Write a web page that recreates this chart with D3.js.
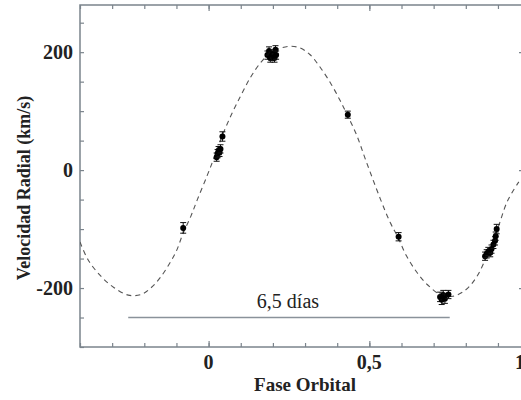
<!DOCTYPE html>
<html>
<head>
<meta charset="utf-8">
<script src="https://cdn.jsdelivr.net/npm/d3@7"></script>
<style>
  body { margin: 0; background: #fff; }
  svg { display: block; font-family: 'Liberation Serif', 'DejaVu Serif', serif; }
</style>
</head>
<body>
<svg id="chart" width="521" height="400"></svg>
<script>
// Fitted radial-velocity curve (phase, km/s)
const curvePhase = [-0.40, -0.375, -0.335, -0.295, -0.25, -0.21, -0.18, -0.15, -0.12, -0.10, -0.08, -0.055, -0.035,
  -0.005, 0.015, 0.04, 0.07, 0.10, 0.13, 0.16, 0.19, 0.225, 0.255, 0.285, 0.315, 0.345, 0.38, 0.41, 0.43, 0.46, 0.49,
  0.535, 0.565, 0.59, 0.615, 0.65, 0.68, 0.72, 0.76, 0.80, 0.835, 0.865, 0.895, 0.93, 0.965];
const curveVel = [-122, -152, -180, -199, -212, -211, -200, -182, -157, -137, -108, -78, -50,
  -10, 18, 55, 93, 126, 157, 181, 198, 207, 210, 207, 196, 176, 147, 117, 95, 60, 15,
  -50, -89, -115, -145, -175, -194, -211, -214, -203, -180, -146, -106, -52, -20];

// Observations (phase, velocity, error)
const obsPhase = [-0.079, 0.025, 0.028, 0.031, 0.034, 0.037, 0.043,
  0.183, 0.188, 0.192, 0.196, 0.200, 0.205, 0.208, 0.210,
  0.433, 0.591,
  0.720, 0.725, 0.730, 0.735, 0.746,
  0.860, 0.865, 0.870, 0.876, 0.880, 0.886, 0.891, 0.893, 0.896];
const obsVel = [-98, 22, 28, 33, 30, 36, 57,
  195, 202, 190, 193, 197, 190, 204, 195,
  94, -113,
  -215, -220, -212, -218, -211,
  -146, -142, -138, -140, -134, -126, -120, -112, -100];
const obsErr = [9, 7, 7, 7, 7, 7, 8,
  7, 7, 7, 7, 7, 7, 7, 7,
  6, 7,
  8, 8, 8, 8, 7,
  7, 7, 7, 7, 7, 7, 7, 7, 8];

// Period bar
const periodSpan = [-0.25, 0.75];
const periodLevel = -250;
const periodLabel = '6,5 días';

const xMajor = [0, 0.5, 1];
const xMinor = d3.range(-4, 15).map(i => i / 10);
const yMajor = [-200, 0, 200];
const yMinor = d3.range(-300, 281, 50);

const MARGIN = { TOP: 5, LEFT: 80, BOTTOM: 347, RIGHT: 523 };
const AXIS_COLOR = '#7b848c';

const xScale = d3.scaleLinear().domain([-0.4, 1.0]).range([MARGIN.LEFT, MARGIN.LEFT + 1.4 * 321.5]);
const yScale = d3.scaleLinear().domain([-300, 280]).range([MARGIN.BOTTOM, MARGIN.TOP]);

// Spanish decimal comma, plain hyphen for negatives
const locale = d3.formatLocale({ decimal: ',', thousands: '.', grouping: [3], currency: ['', ''], minus: '-' });
const fmt = locale.format('~g');

const svg = d3.select('#chart');

// Frame
svg.append('rect')
  .attr('x', MARGIN.LEFT)
  .attr('y', MARGIN.TOP)
  .attr('width', MARGIN.RIGHT - MARGIN.LEFT)
  .attr('height', MARGIN.BOTTOM - MARGIN.TOP)
  .attr('fill', 'none')
  .attr('stroke', AXIS_COLOR)
  .attr('stroke-width', 1.5);

// Inward ticks on all four sides
function tickGroup(axis, transform) {
  const g = svg.append('g').attr('transform', transform).call(axis);
  g.select('.domain').remove();
  g.selectAll('.tick line').attr('stroke', AXIS_COLOR).attr('stroke-width', 1.2);
  return g;
}
tickGroup(d3.axisBottom(xScale).tickValues(xMinor).tickSize(-4).tickFormat(''), `translate(0,${MARGIN.BOTTOM})`);
tickGroup(d3.axisTop(xScale).tickValues(xMinor).tickSize(-4).tickFormat(''), `translate(0,${MARGIN.TOP})`);
tickGroup(d3.axisBottom(xScale).tickValues(xMajor).tickSize(-6).tickFormat(''), `translate(0,${MARGIN.BOTTOM})`);
tickGroup(d3.axisTop(xScale).tickValues(xMajor).tickSize(-6).tickFormat(''), `translate(0,${MARGIN.TOP})`);
tickGroup(d3.axisLeft(yScale).tickValues(yMinor).tickSize(-4).tickFormat(''), `translate(${MARGIN.LEFT},0)`);
tickGroup(d3.axisRight(yScale).tickValues(yMajor).tickSize(-4).tickFormat(''), `translate(${MARGIN.RIGHT},0)`);

// Tick labels
svg.append('g').selectAll('text')
  .data(xMajor)
  .join('text')
  .attr('x', d => xScale(d) - (d === 1 ? 10 : 0))
  .attr('y', MARGIN.BOTTOM + 22)
  .attr('text-anchor', 'middle')
  .attr('font-size', 20)
  .attr('font-weight', 'bold')
  .attr('fill', '#222')
  .text(d => fmt(d));

svg.append('g').selectAll('text')
  .data(yMajor)
  .join('text')
  .attr('x', MARGIN.LEFT - 7)
  .attr('y', d => yScale(d))
  .attr('dy', '0.35em')
  .attr('text-anchor', 'end')
  .attr('font-size', 20)
  .attr('font-weight', 'bold')
  .attr('fill', '#222')
  .text(d => fmt(d));

// Axis titles
svg.append('text')
  .attr('x', 305)
  .attr('y', 391)
  .attr('text-anchor', 'middle')
  .attr('font-size', 19)
  .attr('font-weight', 'bold')
  .attr('fill', '#222')
  .text('Fase Orbital');

svg.append('text')
  .attr('transform', `translate(30,${(MARGIN.TOP + MARGIN.BOTTOM) / 2 + 12}) rotate(-90)`)
  .attr('text-anchor', 'middle')
  .attr('font-size', 18)
  .attr('font-weight', 'bold')
  .attr('fill', '#222')
  .text('Velocidad Radial (km/s)');

// Clip for plot contents
svg.append('clipPath').attr('id', 'plot-clip')
  .append('rect')
  .attr('x', MARGIN.LEFT)
  .attr('y', MARGIN.TOP)
  .attr('width', MARGIN.RIGHT - MARGIN.LEFT)
  .attr('height', MARGIN.BOTTOM - MARGIN.TOP);
const plot = svg.append('g').attr('clip-path', 'url(#plot-clip)');

// Period bar and label
plot.append('line')
  .attr('x1', xScale(periodSpan[0]))
  .attr('x2', xScale(periodSpan[1]))
  .attr('y1', yScale(periodLevel))
  .attr('y2', yScale(periodLevel))
  .attr('stroke', '#8a929a')
  .attr('stroke-width', 1.5);
svg.append('text')
  .attr('x', xScale(d3.mean(periodSpan)) - 1)
  .attr('y', yScale(periodLevel) - 10)
  .attr('text-anchor', 'middle')
  .attr('font-size', 20)
  .attr('fill', '#222')
  .text(periodLabel);

// Fitted curve
const curveData = curvePhase.map((p, i) => ({ p, v: curveVel[i] }));
plot.append('path')
  .datum(curveData)
  .attr('fill', 'none')
  .attr('stroke', '#555')
  .attr('stroke-width', 1.1)
  .attr('stroke-dasharray', '5,4')
  .attr('d', d3.line().x(d => xScale(d.p)).y(d => yScale(d.v)).curve(d3.curveCatmullRom));

// Observations with error bars
const obs = obsPhase.map((p, i) => ({ p, v: obsVel[i], e: obsErr[i] }));
const pts = plot.append('g').selectAll('g')
  .data(obs)
  .join('g')
  .attr('transform', d => `translate(${xScale(d.p)},0)`);
pts.append('line')
  .attr('y1', d => yScale(d.v - d.e))
  .attr('y2', d => yScale(d.v + d.e))
  .attr('stroke', '#111')
  .attr('stroke-width', 1);
pts.append('line')
  .attr('x1', -3).attr('x2', 3)
  .attr('y1', d => yScale(d.v + d.e))
  .attr('y2', d => yScale(d.v + d.e))
  .attr('stroke', '#111');
pts.append('line')
  .attr('x1', -3).attr('x2', 3)
  .attr('y1', d => yScale(d.v - d.e))
  .attr('y2', d => yScale(d.v - d.e))
  .attr('stroke', '#111');
pts.append('circle')
  .attr('cy', d => yScale(d.v))
  .attr('r', 3)
  .attr('fill', '#000');
</script>
</body>
</html>
